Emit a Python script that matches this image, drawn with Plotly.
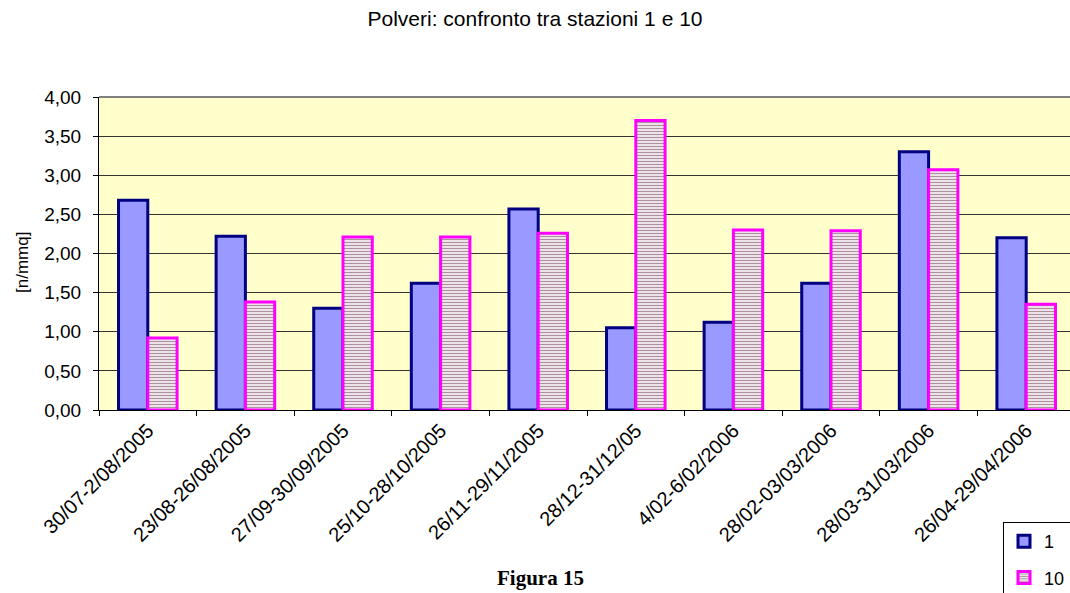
import plotly.graph_objects as go

periods = [
    "30/07-2/08/2005", "23/08-26/08/2005", "27/09-30/09/2005",
    "25/10-28/10/2005", "26/11-29/11/2005", "28/12-31/12/05",
    "4/02-6/02/2006", "28/02-03/03/2006", "28/03-31/03/2006",
    "26/04-29/04/2006",
]
station_1 = [2.68, 2.22, 1.30, 1.62, 2.57, 1.05, 1.12, 1.62, 3.30, 2.20]
station_10 = [0.92, 1.38, 2.21, 2.21, 2.26, 3.70, 2.30, 2.29, 3.07, 1.35]
y_ticks = [0, 0.5, 1, 1.5, 2, 2.5, 3, 3.5, 4]
y_tick_text = [f"{v:.2f}".replace(".", ",") for v in y_ticks]

W, H = 1070, 593
L, T, B = 99, 97, 183
plot_w = W - L
plot_h = H - T - B
step = 97.6  # px per category


def px_to_paper(px, py):
    return (px - L) / plot_w, (T + plot_h - py) / plot_h


fig = go.Figure()
fig.add_trace(go.Bar(
    x=periods, y=station_1, name="1", legendgroup="a",
    marker=dict(color="#9999FF", line=dict(color="#000080", width=3)),
))
fig.add_trace(go.Bar(
    x=periods, y=station_10, name="10", legendgroup="b",
    marker=dict(
        color="#FFFFFF",
        line=dict(color="#FF00FF", width=3),
        pattern=dict(shape="-", fgcolor="#5C1F40", bgcolor="#FFFFFF",
                     size=3, solidity=0.5),
    ),
))

# plot-area frame (top edge grey)
fig.add_shape(type="line", xref="paper", yref="paper", x0=0, x1=1, y0=1, y1=1,
              line=dict(color="#808080", width=2))

ax, ay = px_to_paper(22, 263)
fig.add_annotation(text="[n/mmq]", xref="paper", yref="paper",
                   x=ax, y=ay, xanchor="center", yanchor="middle",
                   textangle=-90, showarrow=False,
                   font=dict(family="Liberation Sans", size=17, color="black"))
fx, fy = px_to_paper(540, 578)
fig.add_annotation(text="<b>Figura 15</b>", xref="paper", yref="paper",
                   x=fx, y=fy, xanchor="center", yanchor="middle",
                   showarrow=False,
                   font=dict(family="Liberation Serif", size=21, color="black"))

fig.update_layout(
    width=W, height=H,
    margin=dict(l=L, r=0, t=T, b=B, pad=0, autoexpand=False),
    paper_bgcolor="white", plot_bgcolor="#FFFFCC",
    barmode="group", bargap=0.4, bargroupgap=0,
    title=dict(text="Polveri: confronto tra stazioni 1 e 10",
               x=535 / W, xanchor="center", y=1 - 19 / H, yanchor="middle",
               font=dict(family="Liberation Sans", size=21, color="black")),
    font=dict(family="Liberation Sans", color="black"),
    showlegend=True,
    legend=dict(xref="container", yref="container",
                x=1003 / W, y=1 - 522 / H,
                xanchor="left", yanchor="top",
                bordercolor="black", borderwidth=1, bgcolor="white",
                font=dict(family="Liberation Sans", size=18, color="black"),
                tracegroupgap=10, traceorder="grouped"),
    xaxis=dict(
        type="category", range=[-0.5, -0.5 + plot_w / step],
        tickson="boundaries", ticks="outside", ticklen=5, tickcolor="black",
        showline=True, linecolor="black", linewidth=1,
        showgrid=False, tickangle=-45,
        tickfont=dict(family="Liberation Sans", size=20, color="black"),
    ),
    yaxis=dict(
        range=[0, 4], tickvals=y_ticks, ticktext=y_tick_text,
        ticks="outside", ticklen=5, tickcolor="black",
        ticklabelstandoff=8,
        showline=True, linecolor="black", linewidth=1,
        showgrid=True, gridcolor="#333333", gridwidth=1,
        zeroline=False,
        tickfont=dict(family="Liberation Sans", size=19, color="black"),
    ),
)

fig.write_html("out.html")
